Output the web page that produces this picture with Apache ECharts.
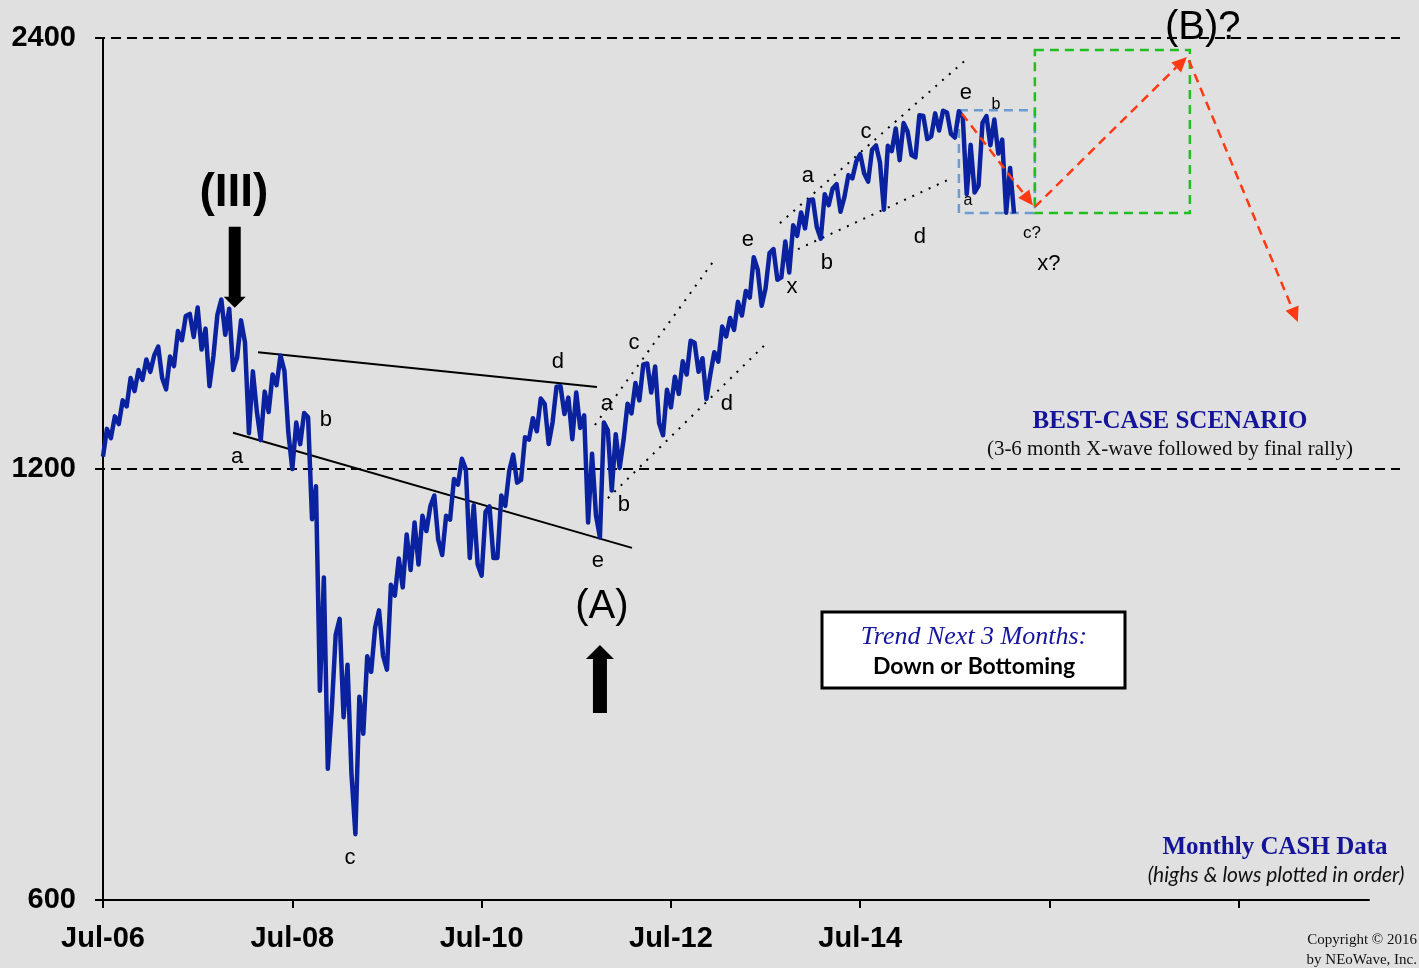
<!DOCTYPE html>
<html><head><meta charset="utf-8">
<script src="https://cdn.jsdelivr.net/npm/echarts@6/dist/echarts.min.js"></script>
<style>html,body{margin:0;padding:0;background:#e0e0e0;}#c{width:1419px;height:968px;}</style>
</head><body><div id="c"></div>
<script>
// Monthly S&P 500 cash highs & lows, Jul-2006 .. Feb-2016 (month index 0 = Jul-06)
const highs = [
  1280,1306,1340,1389,1407,1431,
  1441,1461,1438,1498,1535,1540,1556,1504,1538,1576,1553,1524,
  1471,1404,1359,1397,1440,1405,1293,1313,1304,1167,1008,919,
  943,876,832,888,930,956,996,1039,1080,1101,1113,1130,
  1150,1113,1181,1220,1200,1132,1120,1130,1150,1196,1228,1263,
  1302,1344,1332,1370,1371,1346,1357,1308,1230,1293,1277,1269,
  1333,1378,1420,1422,1415,1363,1392,1427,1475,1470,1434,1448,
  1509,1530,1570,1598,1687,1654,1698,1709,1730,1776,1813,1849,
  1851,1867,1884,1897,1925,1968,1991,2005,2019,2018,2075,2093,
  2065,2120,2117,2126,2135,2129,2133,2113,2021,2094,2117,2105,
  2038,1947
];
const lows = [
  1224,1261,1290,1327,1360,1385,
  1403,1389,1364,1416,1476,1484,1454,1371,1439,1489,1407,1435,
  1271,1317,1257,1315,1373,1272,1200,1249,1107,840,741,815,
  805,735,667,784,866,889,869,979,992,1020,1029,1086,
  1071,1045,1106,1170,1040,1029,1011,1040,1040,1131,1174,1179,
  1258,1275,1249,1294,1311,1259,1282,1101,1114,1075,1159,1202,
  1258,1312,1340,1357,1292,1267,1325,1354,1397,1403,1343,1398,
  1426,1485,1501,1536,1581,1560,1605,1627,1633,1646,1746,1767,
  1770,1738,1834,1815,1859,1915,1930,1905,1965,1821,2001,1972,
  1988,1981,2040,2049,2068,2057,2045,1867,1872,1893,2020,1993,
  1812,1810
];
// 1 = the month's high came before its low
const highFirst = [
  0,0,0,0,0,0,
  0,1,0,0,0,1,1,1,0,1,1,0,
  1,1,0,0,0,1,0,0,1,1,1,0,
  1,1,0,0,0,1,0,0,0,0,0,0,
  1,0,0,0,1,1,0,1,0,0,1,0,
  0,0,1,0,1,1,1,1,1,0,1,1,
  0,0,0,1,1,0,0,0,0,1,1,0,
  0,0,0,0,0,1,0,1,0,0,0,0,
  1,0,0,1,0,0,1,0,1,0,0,0,
  1,0,1,0,0,1,0,1,1,0,1,1,
  1,1
];
const xTickValues = [0,24,48,72,96,120,144];
const xTickLabels = ['Jul-06','Jul-08','Jul-10','Jul-12','Jul-14'];
const yTicks = [600,1200,2400];

// Wave labels: [text, month, price, fontSize, bold]
const waveLabels = [
  ['(III)',16.6,1871,46,true],
  ['a',17.0,1223,22],['b',28.27,1298,22],['c',31.31,642,22],['d',57.68,1425,22],['e',62.75,1035,22],
  ['(A)',63.25,961,40],
  ['a',63.89,1332,22],['b',66.04,1132,22],['c',67.31,1469,22],['d',79.10,1332,22],['e',81.76,1734,22],
  ['x',87.34,1608,22],['a',89.37,1922,22],['b',91.77,1671,22],['c',96.72,2063,22],['d',103.56,1742,22],
  ['e',109.39,2197,22],['a',109.65,1847,16],['b',113.19,2155,16],['c?',117.76,1754,17],['x?',119.91,1668,22],
  ['(B)?',139.43,2439,40]
];
// Trend lines: [m1,v1,m2,v2,style]
const trendLines = [
  [19.65,1448,62.62,1369,'solid'],
  [16.48,1272,67.06,1057,'solid'],
  [62.37,1288,77.32,1674,'dot'],
  [64.01,1145,84.29,1472,'dot'],
  [85.82,1782,109.65,2324,'dot'],
  [88.10,1709,107.62,1916,'dot']
];
const redArrows = [
  [108.9,2125,117.9,1833],
  [118.14,1829,137.41,2328],
  [137.66,2316,151.48,1520]
];
const boxes = [
  [108.51,1811,118.14,2137,'#6b9bd1'],
  [118.14,1811,137.79,2354,'#1fbf1f']
];

const seq = [];
for (let i = 0; i < highs.length; i++) {
  const first = highFirst[i] ? highs[i] : lows[i];
  const second = highFirst[i] ? lows[i] : highs[i];
  seq.push([i, first], [i + 0.5, second]);
}

const chart = echarts.init(document.getElementById('c'));
const SANS = '"Liberation Sans", Arial, sans-serif';
const SERIF = '"Liberation Serif", "Times New Roman", serif';
chart.setOption({
  backgroundColor: '#e0e0e0',
  animation: false,
  grid: {left: 103, top: 38, right: 50, bottom: 68},
  xAxis: {
    type: 'value', min: 0, max: 160.5,
    axisLine: {lineStyle: {color: '#000', width: 2}},
    axisTick: {customValues: xTickValues, length: 8, lineStyle: {color: '#000', width: 2}},
    axisLabel: {customValues: xTickValues.slice(0, xTickLabels.length), formatter: v => xTickLabels[Math.round(v / 24)],
      fontFamily: SANS, fontWeight: 'bold', fontSize: 29, color: '#000', margin: 24},
    splitLine: {show: false}
  },
  yAxis: {
    type: 'log', logBase: 2, min: 600, max: 2400,
    axisLine: {show: true, lineStyle: {color: '#000', width: 2}},
    axisTick: {show: true, customValues: yTicks, length: 8, lineStyle: {color: '#000', width: 2}},
    axisLabel: {customValues: yTicks, formatter: v => String(Math.round(v)), fontFamily: SANS, fontWeight: 'bold', fontSize: 29, color: '#000', margin: 27, padding: [7, 0, 0, 0]},
    splitLine: {show: false}
  },
  series: [{
    type: 'line', data: seq, symbol: 'none', showSymbol: false,
    lineStyle: {color: '#0b22a0', width: 4.5, join: 'round'}, z: 5
  }]
});

const P = (m, v) => chart.convertToPixel({gridIndex: 0}, [m, v]);
const g = [];
// dashed reference lines at 1200 and 2400
[1200, 2400].forEach(v => {
  const y = P(0, v)[1];
  g.push({type: 'line', z: 3, shape: {x1: 95, y1: y, x2: 1400, y2: y}, style: {stroke: '#000', lineWidth: 2, lineDash: [10, 6]}});
});
trendLines.forEach(t => {
  const a = P(t[0], t[1]), b = P(t[2], t[3]);
  g.push({type: 'line', z: 3, shape: {x1: a[0], y1: a[1], x2: b[0], y2: b[1]},
    style: t[4] === 'dot' ? {stroke: '#000', lineWidth: 2, lineDash: [2, 7]} : {stroke: '#000', lineWidth: 2}});
});
boxes.forEach(b => {
  const p1 = P(b[0], b[3]), p2 = P(b[2], b[1]);
  g.push({type: 'rect', z: 4, shape: {x: p1[0], y: p1[1], width: p2[0] - p1[0], height: p2[1] - p1[1]},
    style: {fill: 'none', stroke: b[4], lineWidth: 2.5, lineDash: [9, 6]}});
});
redArrows.forEach(r => {
  const p1 = P(r[0], r[1]), p2 = P(r[2], r[3]);
  const ang = Math.atan2(p2[1] - p1[1], p2[0] - p1[0]);
  const L = 15, W = 7;
  const bx = p2[0] - L * Math.cos(ang), by = p2[1] - L * Math.sin(ang);
  g.push({type: 'line', z: 6, shape: {x1: p1[0], y1: p1[1], x2: bx, y2: by}, style: {stroke: '#ff3a12', lineWidth: 2.5, lineDash: [9, 6]}});
  g.push({type: 'polygon', z: 6, shape: {points: [[p2[0], p2[1]], [bx - W * Math.sin(ang), by + W * Math.cos(ang)], [bx + W * Math.sin(ang), by - W * Math.cos(ang)]]},
    style: {fill: '#ff3a12'}});
});
waveLabels.forEach(w => {
  const p = P(w[1], w[2]);
  g.push({type: 'text', z: 7, x: p[0], y: p[1], style: {text: w[0], fontSize: w[3], fontWeight: w[4] ? 'bold' : 'normal',
    fontFamily: SANS, fill: '#000', align: 'center', verticalAlign: 'middle'}});
});
// black arrows
(function () {
  const t = P(16.7, 1555); // tip of down arrow
  const x = t[0], y = t[1];
  g.push({type: 'polygon', z: 7, shape: {points: [[x - 6, y - 81], [x + 6, y - 81], [x + 6, y - 11], [x + 11, y - 11], [x, y], [x - 11, y - 11], [x - 6, y - 11]]}, style: {fill: '#000'}});
  const u = P(63.0, 904); // tip of up arrow
  const ux = u[0], uy = u[1];
  g.push({type: 'polygon', z: 7, shape: {points: [[ux, uy], [ux + 14, uy + 14], [ux + 7, uy + 14], [ux + 7, uy + 68], [ux - 7, uy + 68], [ux - 7, uy + 14], [ux - 14, uy + 14]]}, style: {fill: '#000'}});
})();
// text blocks
g.push({type: 'text', z: 7, x: 1170, y: 422, style: {text: 'BEST-CASE SCENARIO', fontFamily: SERIF, fontWeight: 'bold', fontSize: 25, fill: '#14149a', align: 'center', verticalAlign: 'middle'}});
g.push({type: 'text', z: 7, x: 1170, y: 449, style: {text: '(3-6 month X-wave followed by final rally)', fontFamily: SERIF, fontSize: 21, fill: '#111', align: 'center', verticalAlign: 'middle'}});
g.push({type: 'rect', z: 7, shape: {x: 822, y: 612, width: 303, height: 76}, style: {fill: '#fff', stroke: '#000', lineWidth: 3}});
g.push({type: 'text', z: 8, x: 974, y: 637, style: {text: 'Trend Next 3 Months:', fontFamily: SERIF, fontStyle: 'italic', fontSize: 26, fill: '#16169e', align: 'center', verticalAlign: 'middle'}});
g.push({type: 'text', z: 8, x: 974, y: 667, style: {text: 'Down or Bottoming', fontFamily: 'Lato, "Open Sans", sans-serif', fontWeight: 'bold', fontSize: 23, fill: '#000', align: 'center', verticalAlign: 'middle'}});
g.push({type: 'text', z: 7, x: 1275, y: 848, style: {text: 'Monthly CASH Data', fontFamily: SERIF, fontWeight: 'bold', fontSize: 25, fill: '#14149a', align: 'center', verticalAlign: 'middle'}});
g.push({type: 'text', z: 7, x: 1276, y: 875, style: {text: '(highs & lows plotted in order)', fontFamily: 'Lato, "Open Sans", sans-serif', fontStyle: 'italic', fontSize: 21, fill: '#111', align: 'center', verticalAlign: 'middle'}});
g.push({type: 'text', z: 7, x: 1417, y: 940, style: {text: 'Copyright © 2016', fontFamily: SERIF, fontSize: 15, fill: '#111', align: 'right', verticalAlign: 'middle'}});
g.push({type: 'text', z: 7, x: 1417, y: 960, style: {text: 'by NEoWave, Inc.', fontFamily: SERIF, fontSize: 15, fill: '#111', align: 'right', verticalAlign: 'middle'}});
chart.setOption({graphic: g});
</script>
</body></html>
